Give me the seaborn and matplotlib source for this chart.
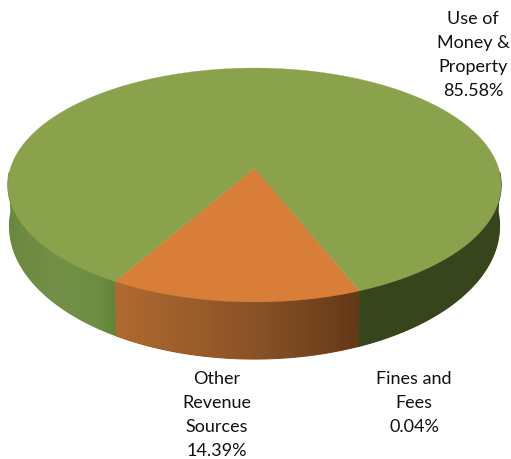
import numpy as np
import pandas as pd
import seaborn as sns
import matplotlib
matplotlib.use("Agg")
import matplotlib.pyplot as plt
from matplotlib.colors import LinearSegmentedColormap
from matplotlib.patches import Polygon

categories = ["Use of\nMoney &\nProperty", "Other\nRevenue\nSources", "Fines and\nFees"]
shares = [85.58, 14.39, 0.04]
top_colors = ["#89A24B", "#D87E38", "#A8904A"]

sns.set_theme(style="white")
plt.rcParams["font.family"] = ["Lato", "DejaVu Sans"]

revenue = pd.DataFrame({"source": categories, "share": shares, "color": top_colors})

# Projection of the unit disc, tilted toward the viewer, onto pixel space.
CX = 254.5
TILT = 0.1453
TOP = dict(a=244.0, b=114.5, cy=168.0)
BOTTOM = dict(a=242.4, b=130.2, cy=206.7)
FRONT_START = -30.0  # angle of the first front slice edge, from straight down
WALL_LIMIT = 88.0  # the wall is hidden behind the top face beyond this angle


def project(theta_deg, disc):
    t = np.radians(theta_deg)
    u, v = np.sin(t), np.cos(t)
    w = 1 - TILT * v
    return CX + disc["a"] * u / w, disc["cy"] + disc["b"] * v / w


# Slices run around the disc: Other Revenue, Fines, then Use of Money.
order = [1, 2, 0]
spans = revenue.iloc[order].copy()
total = spans["share"].sum()
spans["start"] = FRONT_START + 360 * spans["share"].cumsum().shift(fill_value=0) / total
spans["end"] = FRONT_START + 360 * spans["share"].cumsum() / total

wall_ramps = {
    top_colors[0]: LinearSegmentedColormap.from_list(
        "green_wall",
        [(0.0, "#6B883F"), (0.10, "#749048"), (0.18, "#6E8E42"), (0.22, "#628238"),
         (0.46, "#5E7A35"), (0.72, "#37461B"), (1.0, "#36451B")],
    ),
    top_colors[1]: LinearSegmentedColormap.from_list(
        "orange_wall",
        [(0.0, "#B06A30"), (0.22, "#B06A30"), (0.5, "#8A5226"), (0.72, "#633817"), (1.0, "#633817")],
    ),
    top_colors[2]: LinearSegmentedColormap.from_list("fines_wall", ["#4A4A1C", "#4A4A1C"]),
}

fig, ax = plt.subplots(figsize=(5.11, 4.59), dpi=100)
fig.subplots_adjust(0, 0, 1, 1)
ax.axis("off")

ramp_x = np.linspace(0, 1, 512).reshape(1, -1)

# Outer wall: one clipped horizontal gradient per visible run of each slice,
# over a flat backing so neighbouring runs leave no gap between them.
for _, s in spans.iterrows():
    thetas = np.linspace(s["start"], s["end"], 800)
    wrapped = (thetas + 180) % 360 - 180
    visible = np.abs(wrapped) <= WALL_LIMIT
    breaks = np.flatnonzero(np.diff(visible.astype(int)) != 0) + 1
    for run, mask in zip(np.split(thetas, breaks), np.split(visible, breaks)):
        if not mask[0] or len(run) < 2:
            continue
        xt, yt = project(run, TOP)
        xb, yb = project(run[::-1], BOTTOM)
        ramp = wall_ramps[s["color"]]
        flat = ramp((np.mean(xt) - 8) / 493)
        outline = Polygon(np.c_[np.r_[xt, xb], np.r_[yt, yb]], closed=True,
                          fc=flat, ec=flat, lw=0.8, zorder=0.5)
        ax.add_patch(outline)
        im = ax.imshow(ramp_x, cmap=ramp, vmin=0, vmax=1,
                       extent=(8, 501, 459, 0), aspect="auto", zorder=1,
                       interpolation="bilinear")
        im.set_clip_path(outline)

ax.set_xlim(0, 511)
ax.set_ylim(459, 0)

# Top face of each slice.
for _, s in spans.iterrows():
    thetas = np.linspace(s["start"], s["end"], 400)
    xs, ys = project(thetas, TOP)
    ax.fill(np.r_[CX, xs], np.r_[TOP["cy"], ys], color=s["color"], lw=0.2, zorder=2)

# Labels carry the slice name and its share.
label_pos = {categories[0]: (473, 55), categories[1]: (217, 415), categories[2]: (414, 403)}
for _, r in revenue.iterrows():
    x, y = label_pos[r["source"]]
    ax.text(x, y, f"{r['source']}\n{r['share']:.2f}%", ha="center", va="center",
            fontsize=13.0, color="#111111", linespacing=1.59, zorder=3)

fig.savefig("out.png", dpi=100)
